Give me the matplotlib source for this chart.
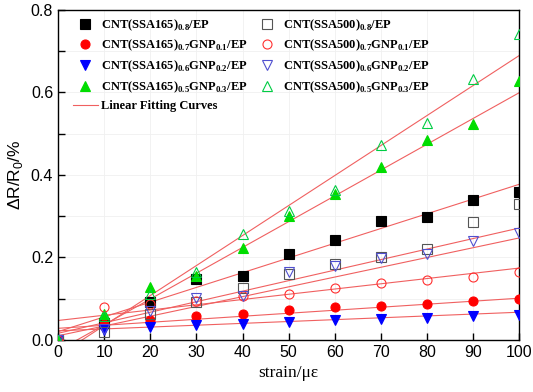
import numpy as np
import matplotlib
matplotlib.use('Agg')
import matplotlib.pyplot as plt
from matplotlib.ticker import MultipleLocator

plt.rcParams['mathtext.fontset'] = 'custom'
plt.rcParams['mathtext.rm'] = 'Liberation Serif:bold'
plt.rcParams['mathtext.bf'] = 'Liberation Serif:bold'
plt.rcParams['mathtext.sf'] = 'Liberation Sans'

# data
strain = [0, 10, 20, 30, 40, 50, 60, 70, 80, 90, 100]

ssa165_08 = [0, 0.040, 0.091, 0.148, 0.156, 0.208, 0.241, 0.288, 0.297, 0.339, 0.358]
ssa165_07 = [0, 0.039, 0.047, 0.059, 0.063, 0.073, 0.079, 0.082, 0.086, 0.093, 0.099]
ssa165_06 = [0, 0.023, 0.031, 0.036, 0.039, 0.043, 0.048, 0.051, 0.053, 0.059, 0.061]
ssa165_05 = [0, 0.063, 0.129, 0.156, 0.223, 0.301, 0.354, 0.419, 0.485, 0.524, 0.627]

ssa500_08 = [0, 0.020, 0.063, 0.091, 0.126, 0.160, 0.184, 0.200, 0.221, 0.285, 0.330]
ssa500_07 = [0, 0.079, 0.086, 0.095, 0.107, 0.112, 0.125, 0.137, 0.145, 0.152, 0.164]
ssa500_06 = [0, 0.027, 0.071, 0.101, 0.107, 0.164, 0.179, 0.198, 0.208, 0.239, 0.259]
ssa500_05 = [0, 0.059, 0.112, 0.164, 0.257, 0.312, 0.364, 0.473, 0.525, 0.633, 0.742]

# fitting lines: value at strain 0 and at strain 100
fit_start = [0.020, 0.028, 0.022, -0.026, 0.010, 0.047, 0.016, -0.038]
fit_end = [0.377, 0.101, 0.067, 0.599, 0.247, 0.174, 0.271, 0.689]

labels = [r'CNT(SSA165)$_{0.8}$/EP',
          r'CNT(SSA165)$_{0.7}$GNP$_{0.1}$/EP',
          r'CNT(SSA165)$_{0.6}$GNP$_{0.2}$/EP',
          r'CNT(SSA165)$_{0.5}$GNP$_{0.3}$/EP',
          r'CNT(SSA500)$_{0.8}$/EP',
          r'CNT(SSA500)$_{0.7}$GNP$_{0.1}$/EP',
          r'CNT(SSA500)$_{0.6}$GNP$_{0.2}$/EP',
          r'CNT(SSA500)$_{0.5}$GNP$_{0.3}$/EP']

series = [ssa165_08, ssa165_07, ssa165_06, ssa165_05,
          ssa500_08, ssa500_07, ssa500_06, ssa500_05]
markers = ['s', 'o', 'v', '^', 's', 'o', 'v', '^']
colors = ['black', '#ff0000', '#0000ff', '#00dd00',
          '#555555', '#ff3030', '#5050d0', '#00cc44']
filled = [True] * 4 + [False] * 4

fig = plt.figure(figsize=(5.33, 3.92), dpi=100)
ax = fig.add_axes([0.109, 0.133, 0.865, 0.842])

handles = []
for i in range(8):
    fc = colors[i] if filled[i] else 'none'
    h, = ax.plot(strain, series[i], linestyle='none', marker=markers[i], ms=6.5,
                 mfc=fc, mec=colors[i], mew=0.8, label=labels[i], zorder=3)
    handles.append(h)

xx = np.array([0, 100])
for a, b in zip(fit_start, fit_end):
    ln, = ax.plot(xx, [a, b], color='#f06060', lw=0.8, zorder=2)
ln.set_label('Linear Fitting Curves')

ax.set_xlim(0, 100)
ax.set_ylim(0, 0.8)
ax.xaxis.set_major_locator(MultipleLocator(10))
ax.yaxis.set_major_locator(MultipleLocator(0.2))
ax.yaxis.set_minor_locator(MultipleLocator(0.1))
ax.yaxis.set_major_formatter(matplotlib.ticker.FormatStrFormatter('%.1f'))
ax.tick_params(which='both', direction='in', length=5, width=1, top=False, right=False)
for lab in ax.get_xticklabels() + ax.get_yticklabels():
    lab.set_fontfamily('Liberation Sans')
    lab.set_fontsize(11.5)
ax.grid(True, which='both', color='#f0f0f0', lw=0.6)
ax.set_axisbelow(True)
for s in ax.spines.values():
    s.set_linewidth(1.0)

ax.set_xlabel('strain/με', family='Liberation Serif', fontsize=12.5)
ax.set_ylabel(r'ΔR/R$_\mathsf{0}$/%', family='Liberation Sans', fontsize=12.5)

order = handles[:4] + [ln] + handles[4:]
leg = ax.legend(handles=order, loc='upper left', ncol=2, frameon=False,
                prop={'family': 'Liberation Serif', 'weight': 'bold', 'size': 9},
                handlelength=2.0, handletextpad=0.3, columnspacing=0.5,
                labelspacing=0.42, bbox_to_anchor=(0.015, 1.0), borderaxespad=0.2)

fig.savefig('out.png', dpi=100)
